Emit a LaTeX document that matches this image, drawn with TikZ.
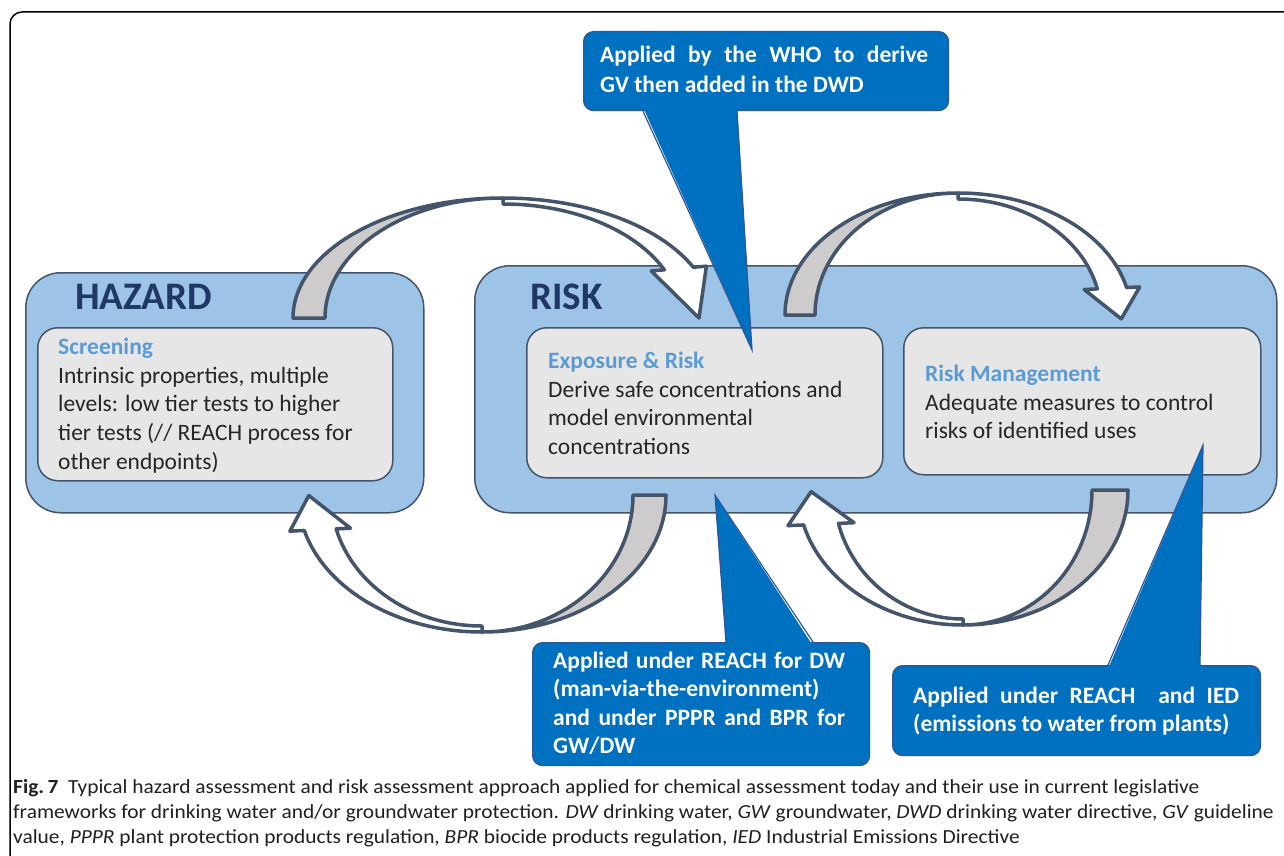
\documentclass[tikz,border=0pt]{standalone}
\usepackage{fontspec}
\setmainfont{Carlito}
\usetikzlibrary{positioning,calc}

\definecolor{paneblue}{HTML}{9DC3E6}
\definecolor{paneline}{HTML}{44546A}
\definecolor{cardgray}{HTML}{E7E6E6}
\definecolor{headblue}{HTML}{5B9BD5}
\definecolor{titlenavy}{HTML}{1F3864}
\definecolor{callblue}{HTML}{0070C0}
\definecolor{callline}{HTML}{2F5597}
\definecolor{backgray}{HTML}{CDCBCB}
\definecolor{textdark}{HTML}{262626}
\definecolor{captext}{HTML}{231F20}

\tikzset{
  pane/.style={draw=paneline, line width=1.5, fill=paneblue, rounded corners=35,
    anchor=north west, inner sep=0},
  card/.style={draw=paneline, line width=1.5, fill=cardgray, rounded corners=20,
    anchor=north west, inner sep=0},
  headline/.style={anchor=west, inner sep=0, text=titlenavy,
    font=\fontsize{39}{42}\selectfont\bfseries},
  cardtext/.style={anchor=north west, inner sep=0, align=left, text=textdark,
    font=\fontsize{23.5}{28.6}\selectfont},
  bubble/.style={draw=callline, line width=1.2, fill=callblue, rounded corners=10,
    anchor=north west, inner sep=0},
  calltext/.style={anchor=north west, inner sep=0, align=left, text=white,
    font=\fontsize{23.5}{28.3}\selectfont\bfseries},
  backface/.style={draw=paneline, line width=3.5, fill=backgray, line join=round},
  frontface/.style={draw=paneline, line width=3.5, fill=white, line join=round},
}

\begin{document}
\begin{tikzpicture}[x=1pt,y=1pt]
  \useasboundingbox (0,0) rectangle (1284,-856);
  \fill[white] (0,0) rectangle (1284,-856);
  \draw[line width=1.5, rounded corners=12] (10,-856) -- (10,-12) -- (1284,-12);

  % the two stages
  \node[pane, minimum width=398, minimum height=240] (hazard) at (25,-272) {};
  \node[pane, minimum width=802, minimum height=247] (risk) at (474,-265) {};
  \node[headline] (hazardlbl) at (75,-297) {HAZARD};
  \node[headline] (risklbl) at (530,-297) {RISK};

  \node[card, minimum width=355, minimum height=153] (screen) at (37,-327) {};
  \node[card, minimum width=356, minimum height=150] (expo) at (526,-327) {};
  \node[card, minimum width=357, minimum height=147] (manage) at (903,-327) {};

  \node[cardtext] (screentxt) at (58,-338) {\textcolor{headblue}{\bfseries Screening}\\
    Intrinsic properties, multiple\\levels: low tier tests to higher\\
    tier tests (// REACH process for\\other endpoints)};
  \node[cardtext] (expotxt) at (548,-352) {\textcolor{headblue}{\bfseries Exposure \& Risk}\\
    Derive safe concentrations and\\model environmental\\concentrations};
  \node[cardtext] (managetxt) at (925,-365) {\textcolor{headblue}{\bfseries Risk Management}\\
    Adequate measures to control\\risks of identified uses};

  % hazard -> risk
  \begin{scope}[shift={(503,-318)}]
    \filldraw[backface] (180:210 and 120)
      arc[start angle=180, end angle=90, x radius=210, y radius=120]
      arc[start angle=90, end angle=180, x radius=178, y radius=120] -- cycle;
    \coordinate (ho) at (25:210 and 120);
    \coordinate (hi) at (25:178 and 114);
    \coordinate (ht) at (196,0);
    \filldraw[frontface] (90:210 and 120)
      arc[start angle=90, end angle=25, x radius=210, y radius=120]
      -- ($(hi)!1.45!(ho)$) -- (ht) -- ($(ho)!1.45!(hi)$) -- (hi)
      arc[start angle=25, end angle=90, x radius=178, y radius=114] -- cycle;
  \end{scope}

  % exposure -> management
  \begin{scope}[shift={(958,-315)}]
    \filldraw[backface] (180:173 and 122)
      arc[start angle=180, end angle=90, x radius=173, y radius=122]
      arc[start angle=90, end angle=180, x radius=143, y radius=122] -- cycle;
    \coordinate (mo) at (13:173 and 122);
    \coordinate (mi) at (13:143 and 116);
    \coordinate (mm) at ($(mo)!.5!(mi)$);
    \coordinate (mt) at ($(mm)+(11:173 and 122)-(13:173 and 122)$);
    \filldraw[frontface] (90:173 and 122)
      arc[start angle=90, end angle=13, x radius=173, y radius=122]
      -- ($(mi)!1.45!(mo)$) -- ($(mm)!32pt!(mt)$) -- ($(mo)!1.45!(mi)$) -- (mi)
      arc[start angle=13, end angle=90, x radius=143, y radius=116] -- cycle;
  \end{scope}

  % risk -> hazard
  \begin{scope}[shift={(482,-495)}]
    \filldraw[backface] (0:184 and 137)
      arc[start angle=0, end angle=-90, x radius=184, y radius=137]
      arc[start angle=-90, end angle=0, x radius=151, y radius=137] -- cycle;
    \coordinate (bo) at (-165:184 and 137);
    \coordinate (bi) at (-165:151 and 131);
    \coordinate (bm) at ($(bo)!.5!(bi)$);
    \coordinate (bt) at ($(bm)+(-167:184 and 137)-(-165:184 and 137)$);
    \filldraw[frontface] (-90:184 and 137)
      arc[start angle=-90, end angle=-165, x radius=184, y radius=137]
      -- ($(bi)!1.45!(bo)$) -- ($(bm)!36pt!(bt)$) -- ($(bo)!1.45!(bi)$) -- (bi)
      arc[start angle=-165, end angle=-90, x radius=151, y radius=131] -- cycle;
  \end{scope}

  % management -> exposure
  \begin{scope}[shift={(963,-490)}]
    \filldraw[backface] (0:165 and 135)
      arc[start angle=0, end angle=-90, x radius=165, y radius=135]
      arc[start angle=-90, end angle=0, x radius=129, y radius=135] -- cycle;
    \coordinate (ro) at (-165:165 and 135);
    \coordinate (ri) at (-165:129 and 129);
    \coordinate (rm) at ($(ro)!.5!(ri)$);
    \coordinate (rt) at ($(rm)+(-167:165 and 135)-(-165:165 and 135)$);
    \filldraw[frontface] (-90:165 and 135)
      arc[start angle=-90, end angle=-165, x radius=165, y radius=135]
      -- ($(ri)!1.45!(ro)$) -- ($(rm)!34pt!(rt)$) -- ($(ro)!1.45!(ri)$) -- (ri)
      arc[start angle=-165, end angle=-90, x radius=129, y radius=129] -- cycle;
  \end{scope}

  % callouts
  \node[bubble, minimum width=365, minimum height=79] (who) at (583,-31) {};
  \coordinate (whotip) at (752,-350);
  \fill[callblue] ($(who.south west)+(60,4)$) -- (whotip) -- ($(who.south west)+(154,4)$) -- cycle;
  \draw[callline, line width=1.2] ($(who.south west)+(60,0)$) -- (whotip) -- ($(who.south west)+(154,0)$);
  \node[calltext, font=\fontsize{23.5}{30}\selectfont\bfseries] (whotxt) at (600,-46)
    {\makebox[328pt][s]{Applied by the WHO to derive}\\GV then added in the DWD};

  \node[bubble, minimum width=337, minimum height=123] (dwbox) at (532,-642) {};
  \coordinate (dwtip) at (715,-495);
  \fill[callblue] ($(dwbox.north west)+(194,-4)$) -- (dwtip) -- ($(dwbox.north west)+(281,-4)$) -- cycle;
  \draw[callline, line width=1.2] ($(dwbox.north west)+(194,0)$) -- (dwtip) -- ($(dwbox.north west)+(281,0)$);
  \node[calltext] (dwtxt) at (553,-652)
    {\makebox[292pt][s]{Applied under REACH for DW}\\(man-via-the-environment)\\
     \makebox[292pt][s]{and under PPPR and BPR for}\\GW/DW};

  \node[bubble, minimum width=368, minimum height=90] (iedbox) at (892,-665) {};
  \coordinate (iedtip) at (1203,-445);
  \fill[callblue] ($(iedbox.north west)+(216,-4)$) -- (iedtip) -- ($(iedbox.north west)+(308,-4)$) -- cycle;
  \draw[callline, line width=1.2] ($(iedbox.north west)+(216,0)$) -- (iedtip) -- ($(iedbox.north west)+(308,0)$);
  \node[calltext] (iedtxt) at (913,-687)
    {\makebox[326pt][s]{Applied under REACH\ \ and IED}\\(emissions to water from plants)};

  % caption
  \begin{scope}[xscale=1.07]
    \node[anchor=north west, inner sep=0, align=left, text=captext, transform shape,
      font=\fontsize{20}{25}\selectfont] (caption) at (12.15,-779)
      {\textbf{Fig.\,7}\hspace{9pt}Typical hazard assessment and risk assessment approach applied for chemical assessment today and their use in current legislative\\
       frameworks for drinking water and/or groundwater protection. \textit{DW} drinking water, \textit{GW} groundwater, \textit{DWD} drinking water directive, \textit{GV} guideline\\
       value, \textit{PPPR} plant protection products regulation, \textit{BPR} biocide products regulation, \textit{IED} Industrial Emissions Directive};
  \end{scope}
\end{tikzpicture}
\end{document}
